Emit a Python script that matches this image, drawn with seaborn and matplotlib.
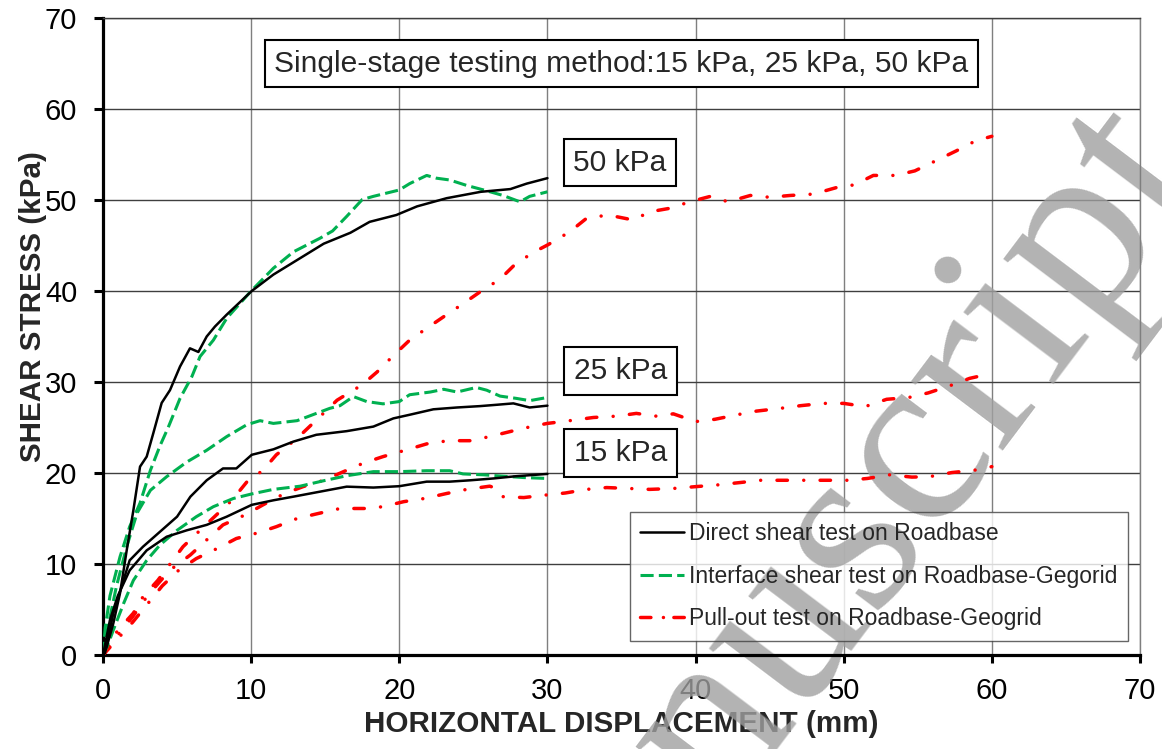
import matplotlib
matplotlib.use("Agg")
import matplotlib.pyplot as plt
import seaborn as sns
import pandas as pd
from matplotlib.lines import Line2D

# ---------------- data ----------------
ds50_x = [0, 0.25, 0.7, 1.15, 1.6, 2.05, 2.5, 2.95, 3.4, 3.96, 4.52, 5.2, 5.87, 6.44, 7.0, 7.56, 8.35,
          10.04, 11.5, 13.3, 14.9, 16.7, 18.0, 19.8, 21.2, 23.2, 25.5, 27.5, 28.6, 30.0]
ds50_y = [0, 0.9, 3.5, 6.8, 11.5, 15.9, 20.7, 21.8, 24.4, 27.7, 29.1, 31.7, 33.7, 33.3, 35.0, 36.1, 37.4,
          40.0, 41.8, 43.6, 45.2, 46.4, 47.6, 48.35, 49.3, 50.2, 50.9, 51.2, 51.8, 52.4]

ds25_x = [0, 0.13, 0.7, 1.8, 2.7, 3.85, 5.0, 5.9, 7.0, 8.1, 9.0, 10.04, 11.5, 12.85, 14.4, 16.45,
          18.25, 19.6, 20.7, 22.3, 23.9, 25.45, 26.6, 27.7, 28.8, 30.0]
ds25_y = [0, 0.2, 4.6, 10.4, 11.9, 13.55, 15.2, 17.4, 19.2, 20.5, 20.5, 22.0, 22.6, 23.45, 24.2, 24.6,
          25.1, 26.0, 26.4, 27.0, 27.2, 27.35, 27.5, 27.65, 27.2, 27.4]

ds15_x = [0, 0.47, 1.0, 1.8, 2.95, 4.3, 5.65, 7.0, 8.35, 10.04, 11.5, 12.85, 14.65, 16.45, 18.25,
          20.0, 21.85, 23.4, 24.8, 26.35, 27.9, 30.0]
ds15_y = [0, 3.85, 6.5, 9.3, 11.5, 13.0, 13.7, 14.3, 15.2, 16.5, 17.0, 17.4, 17.95, 18.5, 18.4,
          18.55, 19.05, 19.05, 19.2, 19.4, 19.65, 19.9]

is50_x = [0, 0.15, 0.47, 1.15, 1.8, 2.5, 3.2, 3.85, 4.4, 5.2, 6.0, 6.55, 7.45, 8.35, 10.0, 11.5, 12.85,
          14.65, 15.5, 16.45, 17.5, 18.25, 20.0, 20.7, 21.85, 22.5, 23.4, 24.55, 25.7, 27.0, 28.15, 28.8, 30.0]
is50_y = [0, 3.0, 6.5, 10.8, 14.1, 16.7, 20.3, 23.0, 25.0, 28.2, 30.6, 32.8, 34.6, 37.0, 40.0, 42.5, 44.3,
          45.8, 46.6, 48.2, 50.05, 50.4, 51.1, 51.8, 52.7, 52.4, 52.2, 51.6, 51.1, 50.5, 49.8, 50.4, 50.9]

is25_x = [0, 0.25, 0.9, 1.6, 2.3, 3.2, 4.3, 5.65, 7.0, 8.35, 9.7, 10.6, 11.5, 13.1, 14.4, 15.3, 16.0,
          16.9, 17.8, 18.9, 20.0, 20.7, 22.1, 23.0, 23.9, 25.2, 25.9, 26.8, 27.9, 28.8, 30.0]
is25_y = [0, 2.4, 7.5, 11.9, 15.6, 18.1, 19.6, 21.2, 22.5, 24.0, 25.3, 25.75, 25.45, 25.75, 26.55, 27.1, 27.4,
          28.4, 27.85, 27.6, 27.85, 28.6, 28.9, 29.2, 28.9, 29.4, 29.1, 28.45, 28.2, 27.95, 28.3]

is15_x = [0, 0.3, 0.7, 1.4, 2.05, 2.95, 3.85, 5.0, 6.3, 7.45, 8.8, 10.04, 11.5, 13.3, 14.9, 16.45,
          18.25, 20.0, 21.85, 23.4, 24.3, 25.7, 27.0, 28.4, 30.0]
is15_y = [0, 1.0, 2.75, 5.7, 8.2, 10.4, 12.1, 13.7, 15.2, 16.3, 17.2, 17.7, 18.2, 18.55, 19.15, 19.7,
          20.15, 20.15, 20.25, 20.25, 19.9, 19.8, 19.65, 19.5, 19.4]

po50_x = [0, 0.5, 1.0, 2.05, 2.7, 3.7, 5.4, 6.55, 8.7, 9.7, 10.8, 11.7, 13.1, 15.1, 15.8, 17.5, 18.5,
          19.6, 20.7, 21.85, 23.2, 24.3, 25.45, 26.8, 27.8, 29.05, 30.0, 31.5, 32.65, 34.1, 35.8, 36.9,
          38.3, 39.6, 41.0, 42.2, 43.7, 45.0, 46.4, 47.96, 49.8, 50.7, 52.0, 53.5, 54.8, 56.2, 57.6, 58.9, 60.0]
po50_y = [0, 1.5, 2.7, 4.6, 6.4, 8.2, 11.9, 13.7, 17.0, 19.0, 20.3, 22.0, 23.8, 26.9, 28.0, 29.7, 31.1,
          32.9, 34.6, 35.9, 37.4, 38.6, 39.9, 41.3, 42.9, 44.25, 45.05, 46.5, 48.0, 48.35, 47.8, 48.7,
          49.1, 49.8, 50.4, 49.8, 50.5, 50.3, 50.5, 50.65, 51.5, 51.65, 52.7, 52.7, 53.2, 54.3, 55.4, 56.5, 57.0]

po25_x = [0, 1.0, 2.0, 3.0, 4.5, 5.9, 7.1, 8.1, 9.6, 10.8, 12.2, 13.5, 14.9, 16.45, 17.6, 18.9, 20.4,
          21.85, 23.3, 24.8, 26.1, 27.6, 28.9, 30.0, 31.5, 33.1, 34.7, 36.0, 37.3, 38.5, 40.0, 41.3, 42.8,
          44.1, 45.7, 47.1, 48.6, 50.0, 51.45, 52.9, 54.4, 55.7, 57.1, 58.5, 60.0]
po25_y = [0, 2.2, 4.2, 6.5, 9.3, 11.0, 12.8, 14.3, 15.4, 16.5, 17.7, 18.5, 19.2, 20.3, 21.1, 21.8, 22.5,
          23.2, 23.55, 23.55, 24.0, 24.6, 25.1, 25.45, 25.75, 26.1, 26.25, 26.55, 26.25, 26.5, 25.65, 25.9, 26.4,
          26.8, 27.1, 27.4, 27.65, 27.65, 27.3, 28.1, 28.3, 28.8, 29.55, 30.4, 30.95]

po15_x = [0, 1.0, 2.0, 3.0, 4.0, 5.1, 6.3, 7.7, 9.0, 10.4, 11.7, 13.1, 14.4, 16.0, 17.8, 18.9, 20.3,
          21.7, 23.2, 24.55, 26.1, 26.6, 27.0, 28.4, 30.0, 31.2, 32.65, 34.0, 35.5, 36.9, 38.5, 40.0, 41.55,
          43.0, 44.4, 45.9, 47.3, 48.9, 50.3, 51.6, 53.1, 54.6, 55.8, 57.3, 58.8, 60.0]
po15_y = [0, 1.8, 3.6, 5.6, 7.6, 9.3, 10.6, 11.7, 12.8, 13.4, 14.1, 15.0, 15.5, 16.1, 16.1, 16.3, 16.85,
          17.2, 17.75, 18.2, 18.55, 18.3, 17.4, 17.3, 17.6, 17.8, 18.2, 18.4, 18.3, 18.2, 18.3, 18.5, 18.7,
          18.95, 19.2, 19.2, 19.2, 19.2, 19.2, 19.4, 19.8, 19.55, 19.6, 20.05, 20.3, 20.7]

series_labels = ["Direct shear test on Roadbase",
                 "Interface shear test on Roadbase-Gegorid",
                 "Pull-out test on Roadbase-Geogrid"]
stress_labels = ["50 kPa", "25 kPa", "15 kPa"]
stress_label_pos = [(34.9, 54.1), (34.95, 31.2), (34.95, 22.2)]
title_text = "Single-stage testing method:15 kPa, 25 kPa, 50 kPa"
xticks = [0, 10, 20, 30, 40, 50, 60, 70]
yticks = [0, 10, 20, 30, 40, 50, 60, 70]

# ---------------- style ----------------
sns.set_style("white")
plt.rcParams['font.family'] = ['Liberation Sans', 'DejaVu Sans']

BLACK = "#000000"
GREEN = "#00B050"
RED = "#FF0000"
green_dash = (4.3, 1.7)
red_dash = (3.0, 4.7, 0.01, 4.7)

fig = plt.figure(figsize=(11.62, 7.49), dpi=100)
ax = fig.add_axes([103 / 1162, 1 - 655 / 749, 1037 / 1162, 637 / 749])


def draw(xs, ys, color, lw, dashes=None, cap="round"):
    df = pd.DataFrame({"x": xs, "y": ys})
    sns.lineplot(data=df, x="x", y="y", ax=ax, color=color, sort=False,
                 estimator=None, linewidth=lw, zorder=3)
    ln = ax.lines[-1]
    if dashes is not None:
        ln.set_dashes(dashes)
        ln.set_dash_capstyle(cap)
    ln.set_solid_capstyle("round")
    ln.set_solid_joinstyle("round")


for xs, ys in [(po15_x, po15_y), (po25_x, po25_y), (po50_x, po50_y)]:
    draw(xs, ys, RED, 2.5, red_dash, "round")
for xs, ys in [(is15_x, is15_y), (is25_x, is25_y), (is50_x, is50_y)]:
    draw(xs, ys, GREEN, 2.2, green_dash, "butt")
for xs, ys in [(ds15_x, ds15_y), (ds25_x, ds25_y), (ds50_x, ds50_y)]:
    draw(xs, ys, BLACK, 1.8)

ax.set_xlim(0, 70)
ax.set_ylim(0, 70)
ax.set_xticks(xticks)
ax.set_yticks(yticks)
ax.set_xticklabels([str(t) for t in xticks])
ax.set_yticklabels([str(t) for t in yticks])

ax.set_axisbelow(True)
ax.xaxis.grid(True, color="#7f7f7f", linewidth=1.0)
ax.yaxis.grid(True, color="#3f3f3f", linewidth=1.0)

for s in ["left", "bottom"]:
    ax.spines[s].set_color("black")
    ax.spines[s].set_linewidth(2.3)
ax.spines["top"].set_color("#3f3f3f")
ax.spines["top"].set_linewidth(1.0)
ax.spines["right"].set_color("#7f7f7f")
ax.spines["right"].set_linewidth(1.0)

ax.tick_params(axis="y", direction="out", length=6.5, width=2.2, pad=12,
               labelsize=21, colors="black", left=True)
ax.tick_params(axis="x", direction="out", length=6.0, width=2.2, pad=10,
               labelsize=21, colors="black", bottom=True)

ax.set_xlabel("HORIZONTAL DISPLACEMENT (mm)", fontsize=21.3, fontweight="bold")
ax.set_ylabel("SHEAR STRESS (kPa)", fontsize=21.3, fontweight="bold")
ax.xaxis.set_label_coords(0.5, -0.086)
ax.yaxis.set_label_coords(-0.054, 0.547)

# title box and stress labels
ax.text(35.0, 65.0, title_text, fontsize=21.6, ha="center", va="center", zorder=6,
        bbox=dict(boxstyle="square,pad=0.32", fc="white", ec="black", lw=1.5))
for lab, (px, py) in zip(stress_labels, stress_label_pos):
    ax.text(px, py, lab, fontsize=21.6, ha="center", va="center", zorder=6,
            bbox=dict(boxstyle="square,pad=0.32", fc="white", ec="black", lw=1.5))

# legend (background below the watermark, content above)
handles = [Line2D([], [], color=BLACK, lw=1.8),
           Line2D([], [], color=GREEN, lw=2.2, dashes=green_dash, dash_capstyle="butt"),
           Line2D([], [], color=RED, lw=2.5, dashes=(3.0, 3.6, 0.01, 3.0), dash_capstyle="round")]
leg_kw = dict(loc="upper left", bbox_to_anchor=(0.508, 0.2245), borderaxespad=0,
              fontsize=16.5, handlelength=1.9, handletextpad=0.25, labelspacing=0.85,
              borderpad=0.45, fancybox=False, shadow=False)
leg_bg = ax.legend(handles, series_labels, frameon=True, **leg_kw)
leg_bg.get_frame().set_facecolor("white")
leg_bg.get_frame().set_edgecolor("none")
leg_bg.set_zorder(1)
for t in leg_bg.get_texts():
    t.set_alpha(0)
for h in leg_bg.legend_handles:
    h.set_alpha(0)
ax.add_artist(leg_bg)
leg = ax.legend(handles, series_labels, frameon=True, **leg_kw)
leg.get_frame().set_facecolor("none")
leg.get_frame().set_edgecolor("#404040")
leg.get_frame().set_linewidth(1.0)
leg.set_zorder(7)

# watermark
ax.text(0.752, 0.178, "manuscript", transform=fig.transFigure, fontsize=180,
        family="Liberation Serif", color="#a0a0a0", alpha=0.8, rotation=53,
        rotation_mode="anchor", ha="center", va="baseline", zorder=1.5, clip_on=False)

fig.savefig("out.png", dpi=100)
